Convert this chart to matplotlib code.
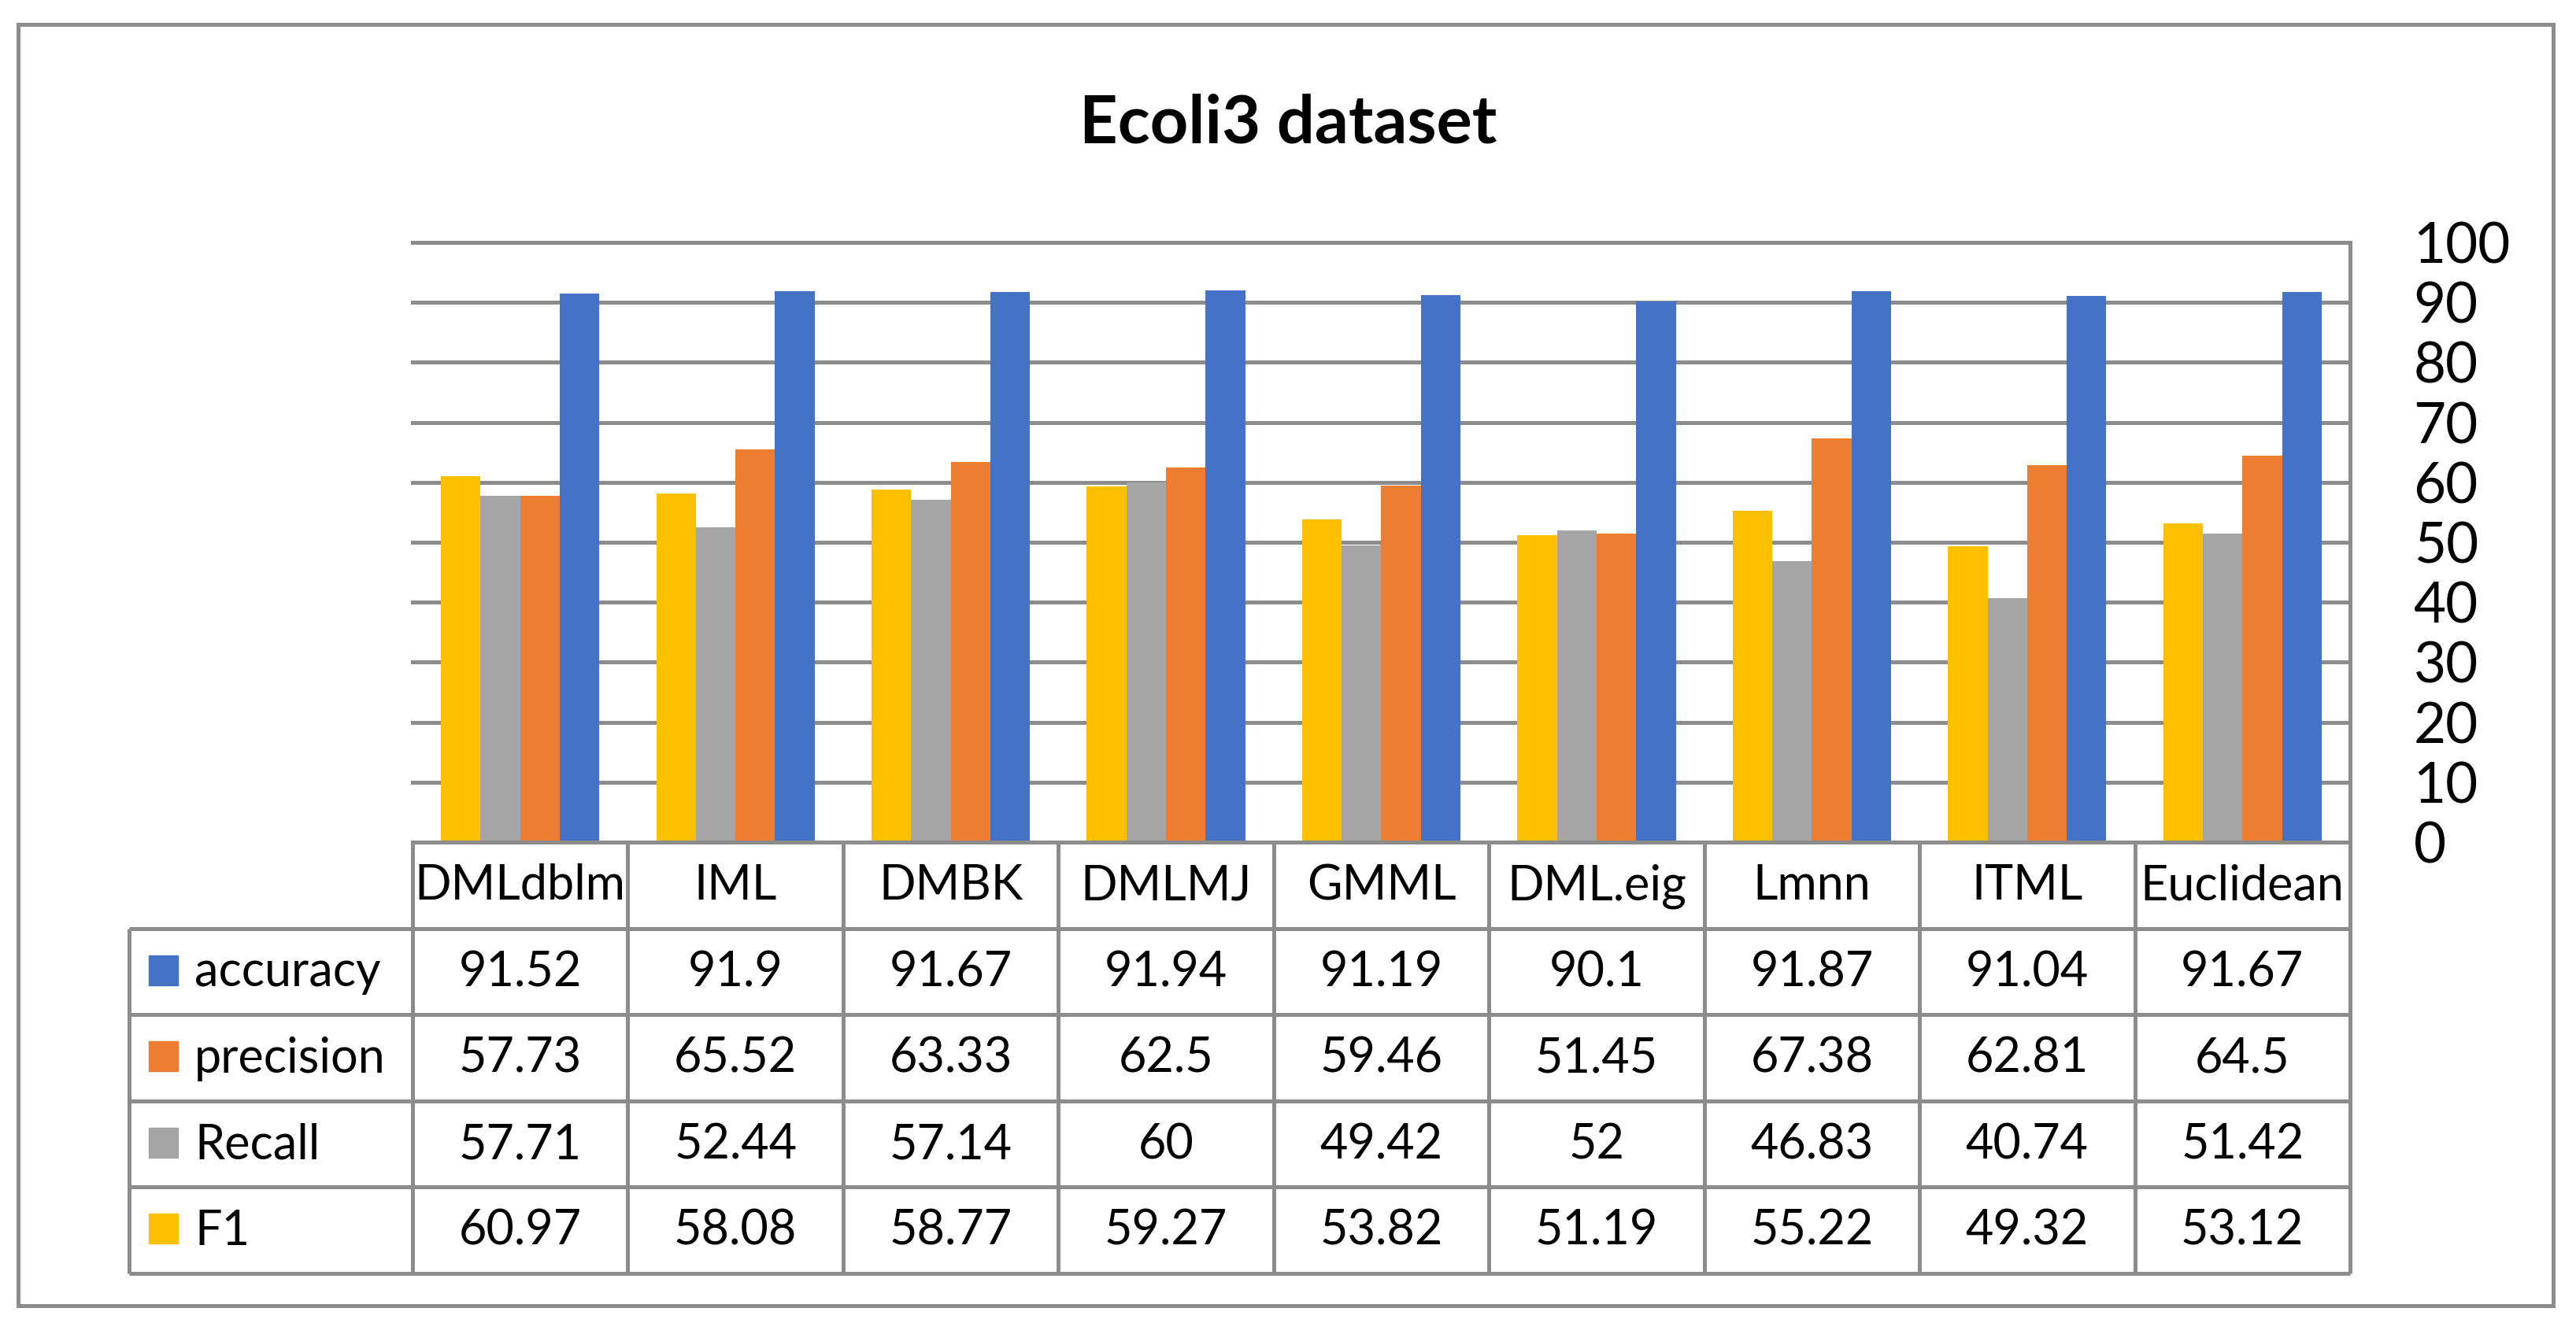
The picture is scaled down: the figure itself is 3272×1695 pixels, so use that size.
import matplotlib
matplotlib.use("Agg")
import matplotlib.pyplot as plt
from matplotlib.patches import Rectangle
import numpy as np

plt.rcParams["font.family"] = ["Lato", "DejaVu Sans"]

methods = ["DMLdblm", "IML", "DMBK", "DMLMJ", "GMML", "DML.eig", "Lmnn", "ITML", "Euclidean"]
accuracy = [91.52, 91.9, 91.67, 91.94, 91.19, 90.1, 91.87, 91.04, 91.67]
precision = [57.73, 65.52, 63.33, 62.5, 59.46, 51.45, 67.38, 62.81, 64.5]
recall = [57.71, 52.44, 57.14, 60, 49.42, 52, 46.83, 40.74, 51.42]
f1 = [60.97, 58.08, 58.77, 59.27, 53.82, 51.19, 55.22, 49.32, 53.12]

# table rows top to bottom, bars left to right are the reverse
row_names = ["accuracy", "precision", "Recall", "F1"]
row_vals = [accuracy, precision, recall, f1]
colors = ["#4472C4", "#ED7D31", "#A5A5A5", "#FFC000"]

W, H = 3273, 1695
gray = "#8c8c8c"
lw = 3.6

fig = plt.figure(figsize=(W / 100, H / 100), dpi=100)

# pixel layout
px_left, px_right = 524, 2985
px_top, px_zero = 308, 1070
tab_left, tab_bottom = 164, 1618

ax = fig.add_axes([px_left / W, 1 - px_zero / H, (px_right - px_left) / W, (px_zero - px_top) / H])
x = np.arange(len(methods))
bw = 0.184
bar_order = [3, 2, 1, 0]  # F1, Recall, precision, accuracy
for k, r in enumerate(bar_order):
    ax.bar(x + (k - 1.5) * bw, row_vals[r], width=bw, color=colors[r], zorder=3)

ax.set_xlim(-0.5, len(methods) - 0.5)
ax.set_ylim(0, 100)
ax.set_yticks(range(0, 101, 10))
ax.yaxis.tick_right()
ax.tick_params(axis="y", length=0, pad=58, labelsize=51)
ax.set_xticks([])
ax.grid(axis="y", color=gray, linewidth=lw)
for gl in ax.get_ygridlines():
    gl.set_clip_on(False)
for s in ["left", "top", "bottom"]:
    ax.spines[s].set_visible(False)
ax.spines["right"].set_color(gray)
ax.spines["right"].set_linewidth(lw)

# data table under the bars, same x scale
unit = (px_right - px_left) / len(methods)
lab_w = (px_left - tab_left) / unit
tax = fig.add_axes([tab_left / W, 1 - tab_bottom / H, (px_right - tab_left) / W, (tab_bottom - px_zero) / H])
x0 = -0.5 - lab_w
x1 = len(methods) - 0.5
tax.set_xlim(x0, x1)
tax.set_ylim(5, 0)
tax.axis("off")

tax.hlines(0, -0.5, x1, color=gray, linewidth=lw, clip_on=False)
for yy in range(1, 6):
    tax.hlines(yy, x0, x1, color=gray, linewidth=lw, clip_on=False)
tax.vlines(x0, 1, 5, color=gray, linewidth=lw, clip_on=False)
for xx in np.arange(-0.5, len(methods), 1.0):
    tax.vlines(xx, 0, 5, color=gray, linewidth=lw, clip_on=False)

fs = 44
base = 0.67
for i, m in enumerate(methods):
    tax.text(i, base, m, ha="center", va="baseline", fontsize=fs)
for r, name in enumerate(row_names):
    yb = r + 1 + base
    sw_x = x0 + 25 / unit
    tax.add_patch(Rectangle((sw_x, r + 1 + 0.31), 37 / unit, 0.347, color=colors[r], clip_on=False))
    tax.text(x0 + 83 / unit, yb, name, ha="left", va="baseline", fontsize=fs)
    for i, v in enumerate(row_vals[r]):
        tax.text(i, yb, f"{v:g}", ha="center", va="baseline", fontsize=fs)

fig.text(0.5, 1 - 181 / H, "Ecoli3 dataset", ha="center", va="baseline", fontsize=61, fontweight="bold")

# outer frame
fig.add_artist(Rectangle((23 / W, 1 - 1659 / H), (3243 - 23) / W, (1659 - 31) / H,
                         transform=fig.transFigure, fill=False, edgecolor=gray, linewidth=lw))

fig.savefig("out.png", dpi=100)
